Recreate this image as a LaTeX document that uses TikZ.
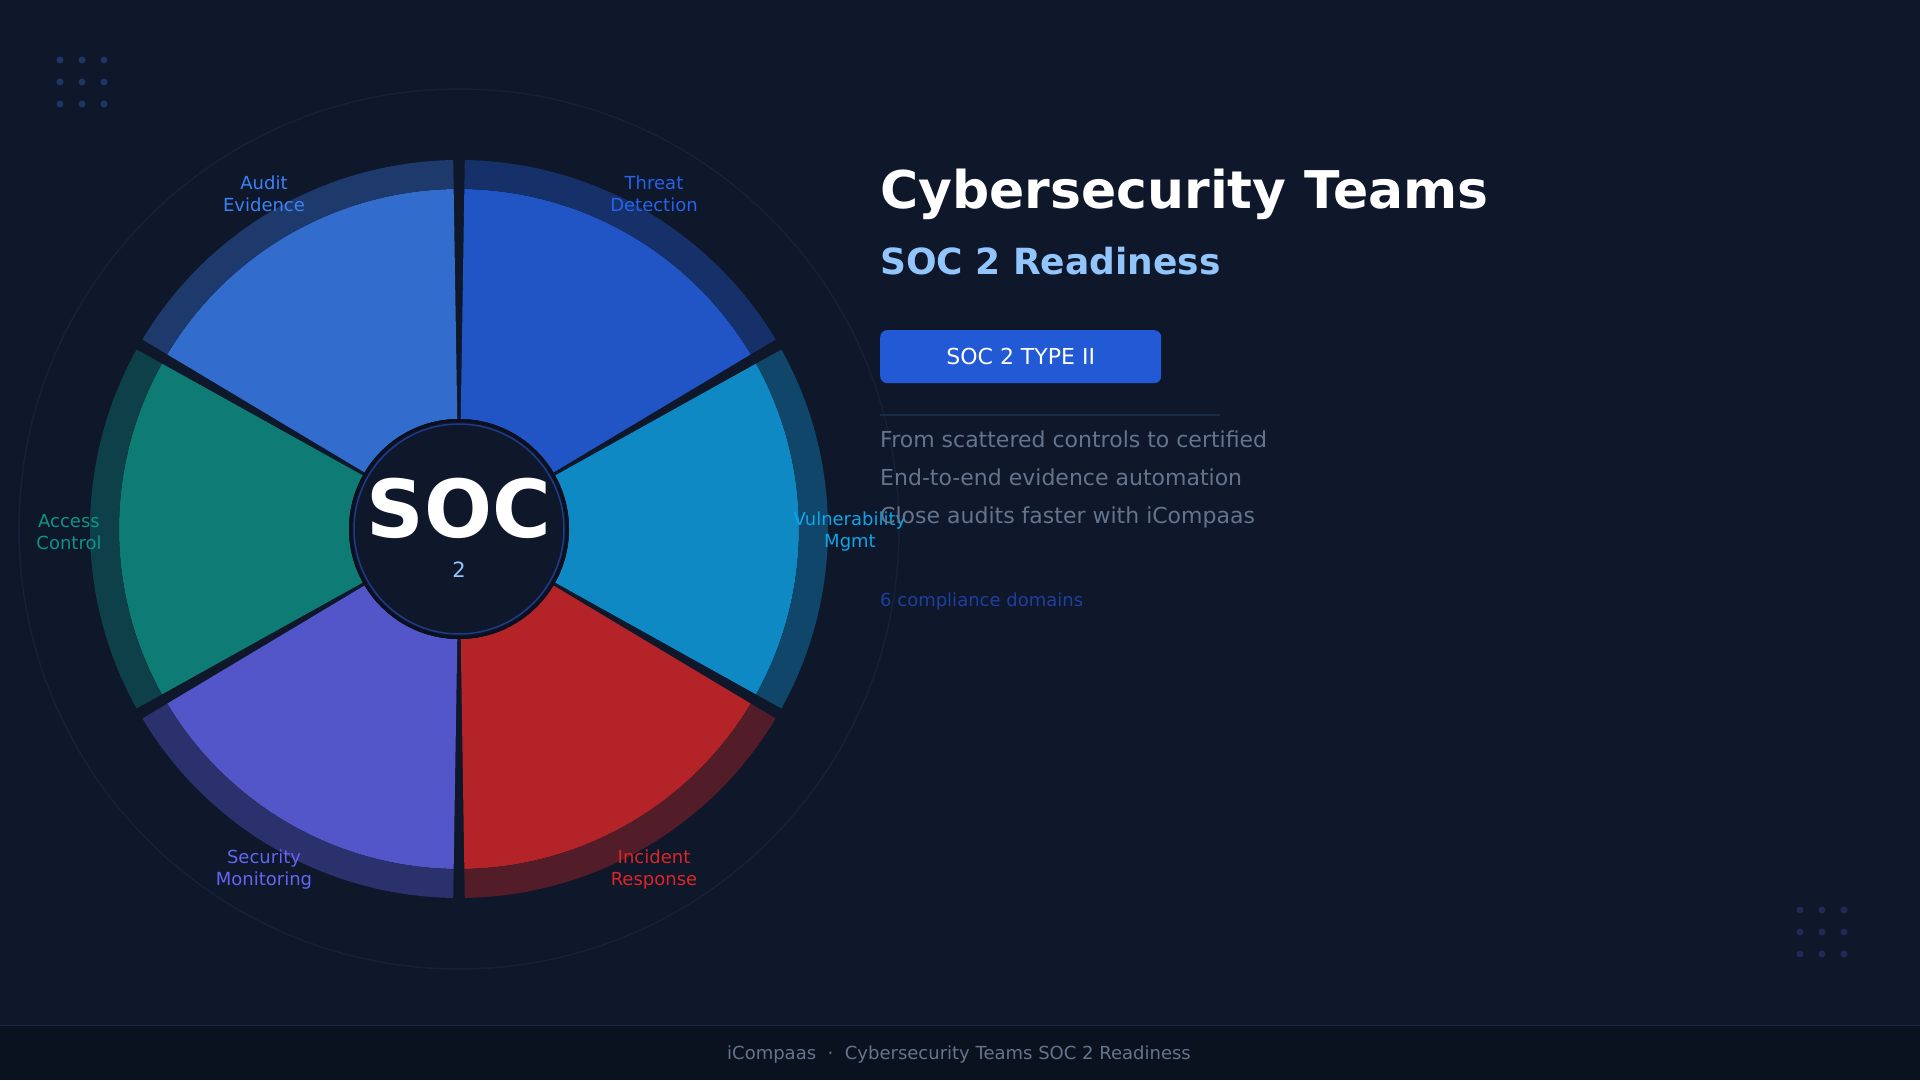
\documentclass[tikz,border=0pt]{standalone}
\usepackage{fontspec}
\setmainfont{DejaVu Sans}
\definecolor{bg}{HTML}{0F172A}
\definecolor{footbg}{HTML}{0A1220}
\definecolor{footline}{HTML}{1A2944}
\definecolor{cAudit}{HTML}{3B82F6}
\definecolor{cThreat}{HTML}{2563EB}
\definecolor{cVuln}{HTML}{0EA5E9}
\definecolor{cIncident}{HTML}{DC2626}
\definecolor{cSecurity}{HTML}{6366F1}
\definecolor{cAccess}{HTML}{0D9488}
\definecolor{slate}{HTML}{64748B}
\definecolor{lightblue}{HTML}{93C5FD}
\definecolor{badge}{HTML}{2259D4}
\definecolor{domains}{HTML}{1E3F9E}
\definecolor{ringline}{HTML}{1E3A8A}
\definecolor{faint}{HTML}{162139}
\definecolor{dotA}{HTML}{1D3566}
\definecolor{dotB}{HTML}{232957}
\newcommand{\wsector}[5]{\fill[#5] (#1:#3) arc[start angle=#1,end angle=#2,radius=#3] -- (#2:#4) arc[start angle=#2,end angle=#1,radius=#4] -- cycle;}
\newcommand{\fpx}[1]{\fontsize{#1}{#1}\selectfont}
\tikzset{
  wlabel/.style={align=center,inner sep=0pt,font=\fontsize{18}{22}\selectfont},
  rtext/.style={anchor=base west,inner sep=0pt},
  dotstyle/.style={inner sep=0pt,minimum size=7pt,circle}
}
\begin{document}
\begin{tikzpicture}[x=1pt,y=1pt]
\fill[bg] (0,0) rectangle (1920,1080);
\useasboundingbox (0,0) rectangle (1920,1080);
% footer
\fill[footbg] (0,0) rectangle (1920,55);
\draw[footline,line width=1pt] (0,55) -- (1920,55);
\node[anchor=base,inner sep=0pt,text=slate,font=\fpx{18}] (footer) at (959,21) {iCompaas\hspace{11.5pt}·\hspace{11.5pt}Cybersecurity Teams SOC 2 Readiness};
% dots
\foreach \i in {0,1,2}{\foreach \j in {0,1,2}{
  \node[dotstyle,fill=dotA] (dA\i\j) at (60+22*\i,1020-22*\j) {};
  \node[dotstyle,fill=dotB] (dB\i\j) at (1800+22*\i,170-22*\j) {};
}}
% wheel
\begin{scope}[shift={(459,551)}]
\draw[faint,line width=1.5pt] (0,0) circle[radius=440];
\def\g{0.9}
\foreach \a/\c in {30/cThreat,90/cAudit,150/cAccess,210/cSecurity,270/cIncident,-30/cVuln}{
  \pgfmathsetmacro{\aa}{\a+\g}
  \pgfmathsetmacro{\bb}{\a+60-\g}
  \wsector{\aa}{\bb}{110}{340}{\c!80!bg}
  \wsector{\aa}{\bb}{340}{369}{\c!33!bg}
}
\fill[bg] (0,0) circle[radius=110];
\draw[black!30!bg,line width=3pt] (0,0) circle[radius=108.5];
\draw[ringline,line width=1.5pt] (0,0) circle[radius=105];
\node[anchor=base,inner sep=0pt,text=white,font=\bfseries\fpx{80}] (soc) at (0,-9) {SOC};
\node[anchor=base,inner sep=0pt,text=lightblue,font=\fpx{21}] (two) at (0,-49) {2};
\begin{scope}[shift={(0,-3)}]
\node[wlabel,text=cThreat] (lThreat) at (60:390) {Threat\\Detection};
\node[wlabel,text=cAudit] (lAudit) at (120:390) {Audit\\Evidence};
\node[wlabel,text=cAccess] (lAccess) at (180:390) {Access\\Control};
\node[wlabel,text=cSecurity] (lSecurity) at (240:390) {Security\\Monitoring};
\node[wlabel,text=cIncident] (lIncident) at (300:390) {Incident\\Response};
\node[wlabel,text=cVuln] (lVuln) at (0:391) {Vulnerability\\Mgmt};
\end{scope}
\end{scope}
% right column
\node[rtext,text=white,font=\bfseries\fpx{52}] (title) at (880,871) {Cybersecurity Teams};
\node[rtext,text=lightblue,font=\bfseries\fpx{36}] (subtitle) at (880,805) {SOC 2 Readiness};
\node[fill=badge,rounded corners=7pt,minimum width=281pt,minimum height=53pt,inner sep=0pt,anchor=north west,text=white,font=\fpx{22}] (badge) at (880,750) {SOC 2 TYPE II};
\coordinate (sepA) at (880,665);
\coordinate (sepB) at (1220,665);
\draw[footline,line width=1.2pt] (sepA) -- (sepB);
\node[rtext,text=slate,font=\fpx{22}] (l1) at (880,632) {From scattered controls to certified};
\node[rtext,text=slate,font=\fpx{22}] (l2) at (880,594) {End-to-end evidence automation};
\node[rtext,text=slate,font=\fpx{22}] (l3) at (880,556) {Close audits faster with iCompaas};
\node[rtext,text=domains,font=\fpx{18}] (dom) at (880,473) {6 compliance domains};
\end{tikzpicture}
\end{document}
